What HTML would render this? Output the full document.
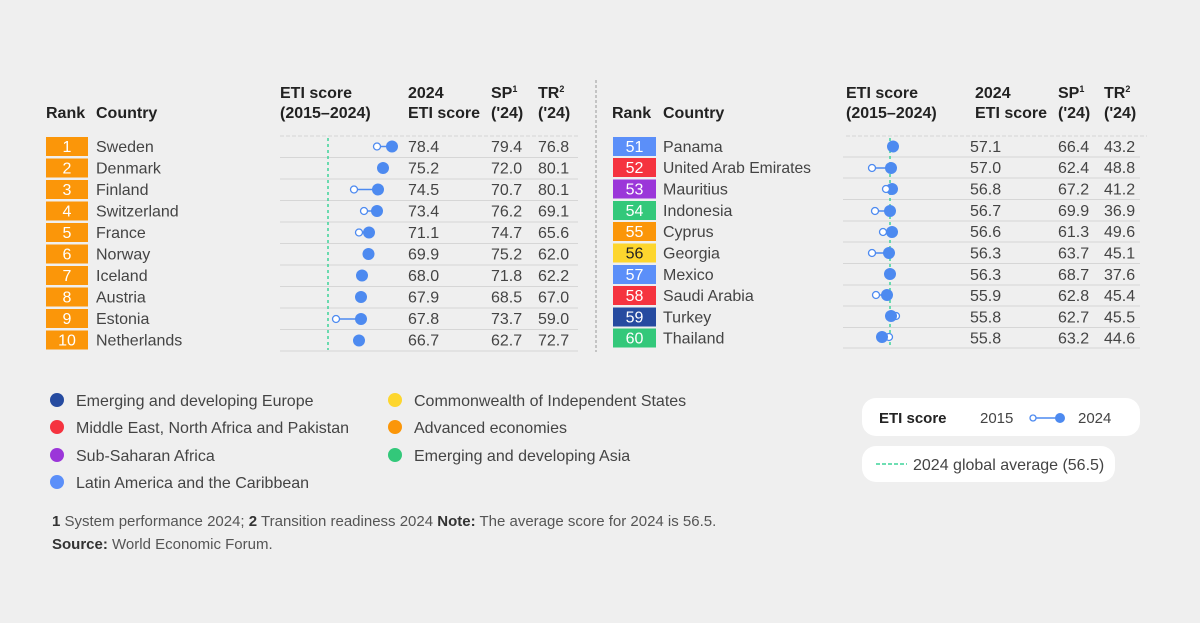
<!DOCTYPE html>
<html><head><meta charset="utf-8"><style>
html,body{margin:0;padding:0;background:#efefef;}
svg{display:block;font-family:"Liberation Sans",Arial,sans-serif;}
</style></head><body>
<svg width="1200" height="623" viewBox="0 0 1200 623" xmlns="http://www.w3.org/2000/svg">
<rect width="1200" height="623" fill="#efefef"/>
<g font-size="16" font-weight="bold" fill="#222">
<text x="46" y="118">Rank</text><text x="96" y="118">Country</text>
<text x="280" y="98">ETI score</text><text x="280" y="118">(2015–2024)</text>
<text x="408" y="98">2024</text><text x="408" y="118">ETI score</text>
<text x="491" y="98">SP<tspan font-size="9" dy="-6">1</tspan></text><text x="491" y="118">('24)</text>
<text x="538" y="98">TR<tspan font-size="9" dy="-6">2</tspan></text><text x="538" y="118">('24)</text>
<text x="612" y="118">Rank</text><text x="663" y="118">Country</text>
<text x="846" y="98">ETI score</text><text x="846" y="118">(2015–2024)</text>
<text x="975" y="98">2024</text><text x="975" y="118">ETI score</text>
<text x="1058" y="98">SP<tspan font-size="9" dy="-6">1</tspan></text><text x="1058" y="118">('24)</text>
<text x="1104" y="98">TR<tspan font-size="9" dy="-6">2</tspan></text><text x="1104" y="118">('24)</text>
</g>
<line x1="596" y1="80" x2="596" y2="352" stroke="#999" stroke-dasharray="3,2"/>
<g stroke="#d6d6d6" stroke-width="1">
<line x1="280" y1="136" x2="578" y2="136" stroke-dasharray="4,2"/>
<line x1="280" y1="157.5" x2="578" y2="157.5"/><line x1="280" y1="179" x2="578" y2="179"/><line x1="280" y1="200.5" x2="578" y2="200.5"/><line x1="280" y1="222" x2="578" y2="222"/><line x1="280" y1="243.5" x2="578" y2="243.5"/><line x1="280" y1="265" x2="578" y2="265"/><line x1="280" y1="286.5" x2="578" y2="286.5"/><line x1="280" y1="308" x2="578" y2="308"/><line x1="280" y1="329.5" x2="578" y2="329.5"/><line x1="280" y1="351" x2="578" y2="351"/>
<line x1="846" y1="136" x2="1147" y2="136" stroke-dasharray="4,2"/>
<line x1="843" y1="157" x2="1140" y2="157"/><line x1="843" y1="178" x2="1140" y2="178"/><line x1="843" y1="199.5" x2="1140" y2="199.5"/><line x1="843" y1="221" x2="1140" y2="221"/><line x1="843" y1="242" x2="1140" y2="242"/><line x1="843" y1="263.5" x2="1140" y2="263.5"/><line x1="843" y1="285" x2="1140" y2="285"/><line x1="843" y1="306" x2="1140" y2="306"/><line x1="843" y1="327.5" x2="1140" y2="327.5"/><line x1="843" y1="348" x2="1140" y2="348"/>
</g>
<line x1="328" y1="138" x2="328" y2="350" stroke="#3fd39a" stroke-width="1.5" stroke-dasharray="3,3"/>
<line x1="890" y1="138" x2="890" y2="348" stroke="#3fd39a" stroke-width="1.5" stroke-dasharray="3,3"/>
<g fill="#fb9609">
<rect x="46" y="137" width="42" height="19"/><rect x="46" y="158.5" width="42" height="19"/><rect x="46" y="180" width="42" height="19"/><rect x="46" y="201.5" width="42" height="19"/><rect x="46" y="223" width="42" height="19"/><rect x="46" y="244.5" width="42" height="19"/><rect x="46" y="266" width="42" height="19"/><rect x="46" y="287.5" width="42" height="19"/><rect x="46" y="309" width="42" height="19"/><rect x="46" y="330.5" width="42" height="19"/>
</g>
<g font-size="16" fill="#fff" text-anchor="middle">
<text x="67" y="152">1</text><text x="67" y="173.5">2</text><text x="67" y="195">3</text><text x="67" y="216.5">4</text><text x="67" y="238">5</text><text x="67" y="259.5">6</text><text x="67" y="281">7</text><text x="67" y="302.5">8</text><text x="67" y="324">9</text><text x="67" y="345.5">10</text>
</g>
<g font-size="16" fill="#444">
<text x="96" y="152">Sweden</text><text x="96" y="173.5">Denmark</text><text x="96" y="195">Finland</text><text x="96" y="216.5">Switzerland</text><text x="96" y="238">France</text><text x="96" y="259.5">Norway</text><text x="96" y="281">Iceland</text><text x="96" y="302.5">Austria</text><text x="96" y="324">Estonia</text><text x="96" y="345.5">Netherlands</text>
<text x="408" y="152">78.4</text><text x="408" y="173.5">75.2</text><text x="408" y="195">74.5</text><text x="408" y="216.5">73.4</text><text x="408" y="238">71.1</text><text x="408" y="259.5">69.9</text><text x="408" y="281">68.0</text><text x="408" y="302.5">67.9</text><text x="408" y="324">67.8</text><text x="408" y="345.5">66.7</text>
<text x="491" y="152">79.4</text><text x="491" y="173.5">72.0</text><text x="491" y="195">70.7</text><text x="491" y="216.5">76.2</text><text x="491" y="238">74.7</text><text x="491" y="259.5">75.2</text><text x="491" y="281">71.8</text><text x="491" y="302.5">68.5</text><text x="491" y="324">73.7</text><text x="491" y="345.5">62.7</text>
<text x="538" y="152">76.8</text><text x="538" y="173.5">80.1</text><text x="538" y="195">80.1</text><text x="538" y="216.5">69.1</text><text x="538" y="238">65.6</text><text x="538" y="259.5">62.0</text><text x="538" y="281">62.2</text><text x="538" y="302.5">67.0</text><text x="538" y="324">59.0</text><text x="538" y="345.5">72.7</text>
</g>
<g stroke="#4d8af0" stroke-width="1.5">
<line x1="377" y1="146.5" x2="392" y2="146.5"/><line x1="354" y1="189.5" x2="378" y2="189.5"/><line x1="364" y1="211" x2="377" y2="211"/><line x1="359" y1="232.5" x2="369" y2="232.5"/><line x1="336" y1="319" x2="361" y2="319"/>
</g>
<g fill="#4d8af0">
<circle cx="392" cy="146.5" r="6"/><circle cx="383" cy="168" r="6"/><circle cx="378" cy="189.5" r="6"/><circle cx="377" cy="211" r="6"/><circle cx="369" cy="232.5" r="6"/><circle cx="368.5" cy="254" r="6"/><circle cx="362" cy="275.5" r="6"/><circle cx="361" cy="297" r="6"/><circle cx="361" cy="319" r="6"/><circle cx="359" cy="340.5" r="6"/>
</g>
<g fill="#fff" stroke="#4d8af0" stroke-width="1.3">
<circle cx="377" cy="146.5" r="3.5"/><circle cx="354" cy="189.5" r="3.5"/><circle cx="364" cy="211" r="3.5"/><circle cx="359" cy="232.5" r="3.5"/><circle cx="336" cy="319" r="3.5"/>
</g>
<rect x="613" y="137" width="43" height="19" fill="#5b8ff9"/>
<rect x="613" y="158" width="43" height="19" fill="#f5333f"/>
<rect x="613" y="179.5" width="43" height="19" fill="#9b36d9"/>
<rect x="613" y="201" width="43" height="19" fill="#33c87a"/>
<rect x="613" y="222" width="43" height="19" fill="#fb9609"/>
<rect x="613" y="243.5" width="43" height="19" fill="#fdd62e"/>
<rect x="613" y="265" width="43" height="19" fill="#5b8ff9"/>
<rect x="613" y="286" width="43" height="19" fill="#f5333f"/>
<rect x="613" y="307.5" width="43" height="19" fill="#264ba0"/>
<rect x="613" y="328.5" width="43" height="19" fill="#33c87a"/>
<g font-size="16" fill="#fff" text-anchor="middle">
<text x="634.5" y="152">51</text><text x="634.5" y="173">52</text><text x="634.5" y="194.5">53</text><text x="634.5" y="216">54</text><text x="634.5" y="237">55</text><text x="634.5" y="258.5" fill="#222">56</text><text x="634.5" y="280">57</text><text x="634.5" y="301">58</text><text x="634.5" y="322.5">59</text><text x="634.5" y="343.5">60</text>
</g>
<g font-size="16" fill="#444">
<text x="663" y="152">Panama</text><text x="663" y="173" textLength="148" lengthAdjust="spacingAndGlyphs">United Arab Emirates</text><text x="663" y="194.5">Mauritius</text><text x="663" y="216">Indonesia</text><text x="663" y="237">Cyprus</text><text x="663" y="258.5">Georgia</text><text x="663" y="280">Mexico</text><text x="663" y="301">Saudi Arabia</text><text x="663" y="322.5">Turkey</text><text x="663" y="343.5">Thailand</text>
<text x="970" y="152">57.1</text><text x="970" y="173">57.0</text><text x="970" y="194.5">56.8</text><text x="970" y="216">56.7</text><text x="970" y="237">56.6</text><text x="970" y="258.5">56.3</text><text x="970" y="280">56.3</text><text x="970" y="301">55.9</text><text x="970" y="322.5">55.8</text><text x="970" y="343.5">55.8</text>
<text x="1058" y="152">66.4</text><text x="1058" y="173">62.4</text><text x="1058" y="194.5">67.2</text><text x="1058" y="216">69.9</text><text x="1058" y="237">61.3</text><text x="1058" y="258.5">63.7</text><text x="1058" y="280">68.7</text><text x="1058" y="301">62.8</text><text x="1058" y="322.5">62.7</text><text x="1058" y="343.5">63.2</text>
<text x="1104" y="152">43.2</text><text x="1104" y="173">48.8</text><text x="1104" y="194.5">41.2</text><text x="1104" y="216">36.9</text><text x="1104" y="237">49.6</text><text x="1104" y="258.5">45.1</text><text x="1104" y="280">37.6</text><text x="1104" y="301">45.4</text><text x="1104" y="322.5">45.5</text><text x="1104" y="343.5">44.6</text>
</g>
<g stroke="#4d8af0" stroke-width="1.5">
<line x1="872" y1="168" x2="891" y2="168"/><line x1="875" y1="211" x2="890" y2="211"/><line x1="872" y1="253" x2="889" y2="253"/><line x1="876" y1="295" x2="887" y2="295"/>
</g>
<g fill="#fff" stroke="#4d8af0" stroke-width="1.3">
<circle cx="896" cy="316" r="3.5"/><circle cx="889" cy="337" r="3.5"/>
</g>
<g fill="#4d8af0">
<circle cx="893" cy="146.5" r="6"/><circle cx="891" cy="168" r="6"/><circle cx="892" cy="189" r="6"/><circle cx="890" cy="211" r="6"/><circle cx="892" cy="232" r="6"/><circle cx="889" cy="253" r="6"/><circle cx="890" cy="274" r="6"/><circle cx="887" cy="295" r="6"/><circle cx="891" cy="316" r="6"/><circle cx="882" cy="337" r="6"/>
</g>
<g fill="#fff" stroke="#4d8af0" stroke-width="1.3">
<circle cx="872" cy="168" r="3.5"/><circle cx="886" cy="189" r="3.5"/><circle cx="875" cy="211" r="3.5"/><circle cx="883" cy="232" r="3.5"/><circle cx="872" cy="253" r="3.5"/><circle cx="876" cy="295" r="3.5"/>
</g>
<g font-size="16" fill="#444">
<circle cx="57" cy="400" r="7" fill="#264ba0"/><text x="76" y="406">Emerging and developing Europe</text>
<circle cx="57" cy="427" r="7" fill="#f5333f"/><text x="76" y="433">Middle East, North Africa and Pakistan</text>
<circle cx="57" cy="455" r="7" fill="#9b36d9"/><text x="76" y="461">Sub-Saharan Africa</text>
<circle cx="57" cy="482" r="7" fill="#5b8ff9"/><text x="76" y="488">Latin America and the Caribbean</text>
<circle cx="395" cy="400" r="7" fill="#fdd62e"/><text x="414" y="406">Commonwealth of Independent States</text>
<circle cx="395" cy="427" r="7" fill="#fb9609"/><text x="414" y="433">Advanced economies</text>
<circle cx="395" cy="455" r="7" fill="#33c87a"/><text x="414" y="461">Emerging and developing Asia</text>
</g>
<rect x="862" y="398" width="278" height="38" rx="14" fill="#fff"/>
<text x="879" y="423" font-size="15" font-weight="bold" fill="#222">ETI score</text>
<text x="980" y="423" font-size="15" fill="#444">2015</text>
<line x1="1033" y1="418" x2="1060" y2="418" stroke="#4d8af0" stroke-width="1.5"/>
<circle cx="1033" cy="418" r="3" fill="#fff" stroke="#4d8af0" stroke-width="1.3"/>
<circle cx="1060" cy="418" r="5" fill="#4d8af0"/>
<text x="1078" y="423" font-size="15" fill="#444">2024</text>
<rect x="862" y="446" width="253" height="36" rx="14" fill="#fff"/>
<line x1="876" y1="464" x2="907" y2="464" stroke="#3fd39a" stroke-width="1.5" stroke-dasharray="4,2"/>
<text x="913" y="470" font-size="16" fill="#444">2024 global average (56.5)</text>
<g font-size="15" fill="#555">
<text x="52" y="526"><tspan font-weight="bold" fill="#333">1</tspan> System performance 2024; <tspan font-weight="bold" fill="#333">2</tspan> Transition readiness 2024 <tspan font-weight="bold" fill="#333">Note:</tspan> The average score for 2024 is 56.5.</text>
<text x="52" y="549"><tspan font-weight="bold" fill="#333">Source:</tspan> World Economic Forum.</text>
</g>
</svg>
</body></html>
